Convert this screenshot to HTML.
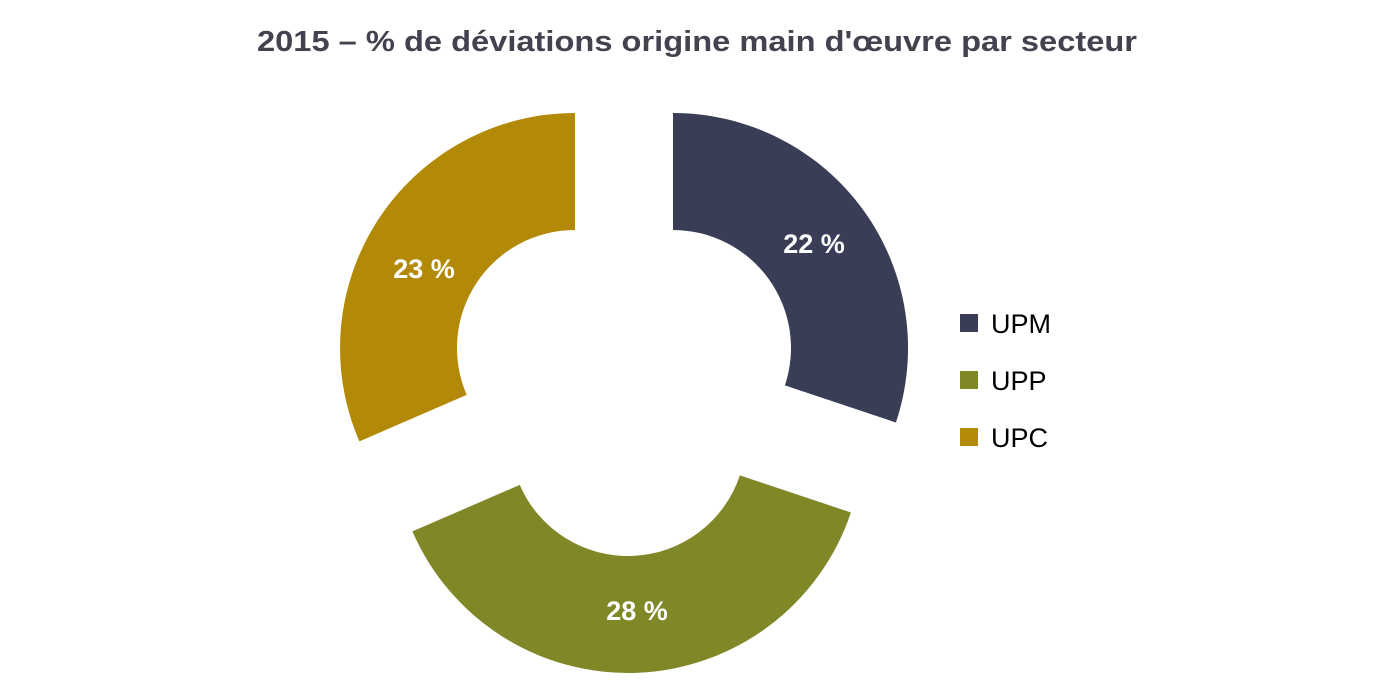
<!DOCTYPE html>
<html><head><meta charset="utf-8"><style>
body{margin:0;background:#fff;}
svg{display:block;font-family:"Liberation Sans",sans-serif;}
</style></head><body>
<svg width="1393" height="697" viewBox="0 0 1393 697">
<text x="697" y="51" text-anchor="middle" font-size="29" font-weight="bold" fill="#43434f" textLength="880" lengthAdjust="spacingAndGlyphs">2015 – % de déviations origine main d'œuvre par secteur</text>
<path d="M673,113 A235,235 0 0 1 895.9,422.5 L784.9,385.4 A118,118 0 0 0 673,230 Z" fill="#393d56"/>
<path d="M850.9,512.5 A235,235 0 0 1 412.4,531.4 L519.7,484.9 A118,118 0 0 0 739.9,475.4 Z" fill="#7f8726"/>
<path d="M359.4,441.4 A235,235 0 0 1 575,113 L575,230 A118,118 0 0 0 466.7,394.9 Z" fill="#b38a07"/>
<g font-size="27" font-weight="bold" fill="#fff" text-anchor="middle">
<text x="814" y="253">22 %</text>
<text x="637" y="620">28 %</text>
<text x="424" y="278">23 %</text>
</g>
<rect x="960" y="314" width="18" height="18" fill="#393d56"/>
<rect x="960" y="371" width="18" height="18" fill="#7f8726"/>
<rect x="960" y="428" width="18" height="18" fill="#b38a07"/>
<g font-size="27" fill="#000">
<text x="991" y="333">UPM</text>
<text x="991" y="390">UPP</text>
<text x="991" y="447">UPC</text>
</g>
</svg>
</body></html>
